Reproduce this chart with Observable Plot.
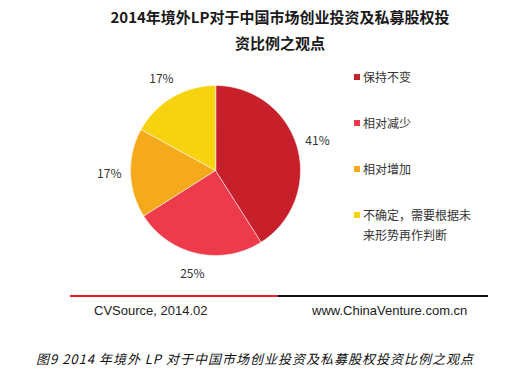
<!DOCTYPE html>
<html><head><meta charset="utf-8">
<script src="https://cdn.jsdelivr.net/npm/d3@7"></script>
<script src="https://cdn.jsdelivr.net/npm/@observablehq/plot@0.6"></script>
<style>
body{margin:0;background:#fff;}
#wrap{position:relative;width:528px;height:372px;overflow:hidden;font-family:"Noto Sans CJK SC","Microsoft YaHei",sans-serif;}
#wrap svg{position:absolute;left:0;top:0;}
.abs{position:absolute;white-space:pre-line;}
#title{left:80px;top:4px;width:400px;text-align:center;font-weight:bold;font-size:15px;line-height:26px;color:#1a1a1a;}
.leg{position:absolute;left:354px;font-size:12px;line-height:20px;color:#333;}
.sw{position:absolute;left:0;top:7px;width:6px;height:6px;}
.lt{position:absolute;left:9px;top:0;width:120px;white-space:pre-line;}
.foot{font-family:"Liberation Sans",Arial,sans-serif;font-size:13px;color:#222;}
#cap{left:36px;top:349px;font-size:13px;font-style:italic;color:#111;letter-spacing:1px;white-space:pre;}
</style></head>
<body><div id="wrap"></div>
<script>
const titleText = "2014年境外LP对于中国市场创业投资及私募股权投\n资比例之观点";
const categories = ["保持不变", "相对减少", "相对增加", "不确定，需要根据未\n来形势再作判断"];
const values = [41, 25, 17, 17];
const colors = ["#C8202A", "#EE3B4B", "#F5AA1C", "#F7D30F"];
const sourceText = "CVSource, 2014.02";
const siteText = "www.ChinaVenture.com.cn";
const captionText = "图9 2014 年境外 LP 对于中国市场创业投资及私募股权投资比例之观点";

const W = 528, H = 372, cx = 215, cy = 170, R = 85;
const data = categories.map((c, i) => ({key: c, value: values[i]}));
const arcs = d3.pie().sort(null).value(d => d.value)(data);

const pts = [];
arcs.forEach(a => {
  const n = Math.max(2, Math.ceil((a.endAngle - a.startAngle) / 0.01));
  pts.push({key: a.data.key, x: 0, y: 0});
  for (let k = 0; k <= n; k++) {
    const t = a.startAngle + (a.endAngle - a.startAngle) * k / n;
    pts.push({key: a.data.key, x: Math.sin(t), y: Math.cos(t)});
  }
});
const labels = arcs.map(a => {
  const m = (a.startAngle + a.endAngle) / 2;
  return {x: 1.25 * Math.sin(m), y: 1.25 * Math.cos(m), text: a.data.value + "%"};
});

const chart = Plot.plot({
  width: W, height: H,
  margin: 0,
  x: {domain: [-cx / R, (W - cx) / R], axis: null},
  y: {domain: [(cy - H) / R, cy / R], axis: null},
  color: {domain: categories, range: colors},
  marks: [
    Plot.line(pts, {x: "x", y: "y", z: "key", fill: "key", stroke: "#fff", strokeWidth: 0.6, curve: "linear-closed"}),
    Plot.text(labels, {x: "x", y: "y", text: "text", fontSize: 12, fill: "#333", fontFamily: "Noto Sans CJK SC, sans-serif"})
  ]
});
const wrap = document.getElementById("wrap");
wrap.appendChild(chart);

function add(cls, id, text, style) {
  const d = document.createElement("div");
  d.className = cls; if (id) d.id = id;
  d.textContent = text;
  if (style) Object.assign(d.style, style);
  wrap.appendChild(d);
  return d;
}
add("abs", "title", titleText);

categories.forEach((c, i) => {
  const g = document.createElement("div");
  g.className = "leg";
  g.style.top = (67 + i * 46) + "px";
  const s = document.createElement("div"); s.className = "sw"; s.style.background = colors[i];
  const t = document.createElement("div"); t.className = "lt"; t.textContent = c;
  g.appendChild(s); g.appendChild(t);
  wrap.appendChild(g);
});

add("abs", null, "", {left: "70px", top: "295px", width: "208px", height: "2px", background: "#E8202A"});
add("abs", null, "", {left: "278px", top: "295px", width: "210px", height: "2px", background: "#111"});
add("abs foot", null, sourceText, {left: "94px", top: "303px"});
add("abs foot", null, siteText, {left: "312px", top: "303px"});
add("abs", "cap", captionText);
</script></body></html>
